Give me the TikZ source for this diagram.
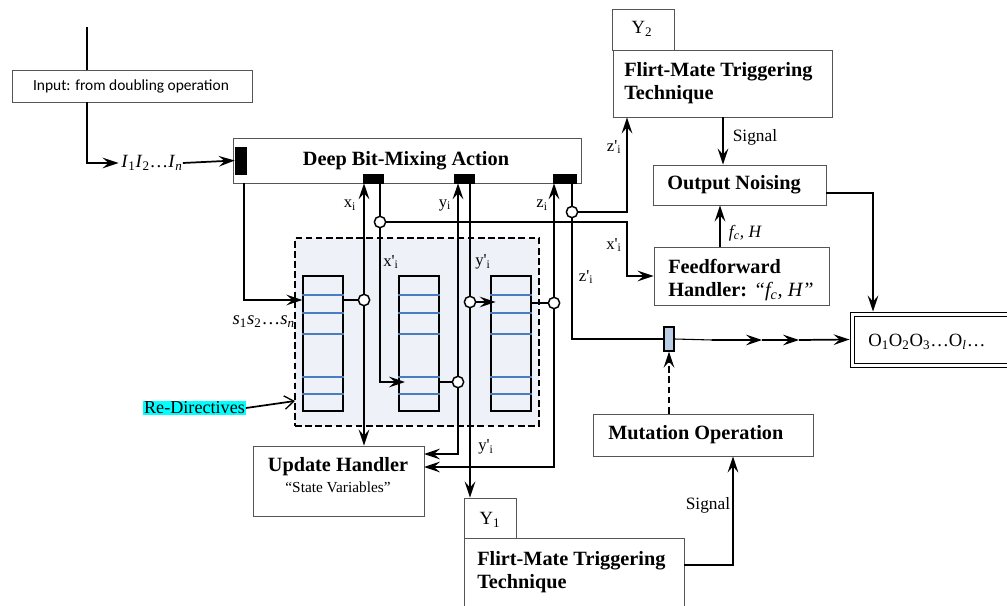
\documentclass[tikz,border=0pt]{standalone}
\usepackage{fontspec}
\setmainfont{Liberation Serif}
\newfontfamily\calibri{Carlito}
\usetikzlibrary{arrows.meta,fit,calc}

\definecolor{edge}{RGB}{85,85,85}
\definecolor{panel}{RGB}{238,242,248}
\definecolor{cellline}{RGB}{74,125,190}
\definecolor{gate}{RGB}{184,204,228}
\definecolor{mark}{RGB}{0,255,255}

\newcommand{\sub}[1]{\textsubscript{#1}}
\newcommand{\pr}{\textquotesingle}

\begin{document}
\begin{tikzpicture}[x=0.75pt,y=-0.75pt,
  box/.style={draw=edge, line width=0.7pt, inner sep=0pt, fill=white},
  wire/.style={line width=1.3pt},
  tip/.style={-{Stealth[length=12pt,width=8pt,inset=4.5pt]}},
  arr/.style={wire, tip},
  barb/.style={wire, -{Straight Barb[length=7pt,width=10pt,line width=1pt]}},
  blk/.style={fill=black, draw=black, inner sep=0pt},
  cell/.style={draw=black, line width=1pt, fill=panel, inner sep=0pt},
  tap/.style={circle, draw=black, line width=1.1pt, fill=white, inner sep=0pt, minimum size=8.5pt},
  bold/.style={font=\fontsize{15.2}{17.3}\selectfont\bfseries, inner sep=0pt},
  lbl/.style={font=\fontsize{12.5}{14}\selectfont, inner sep=0pt},
  sig/.style={font=\fontsize{13}{15}\selectfont, inner sep=0pt},
  big/.style={font=\fontsize{14}{16}\selectfont, inner sep=0pt},
]
\useasboundingbox (0,0) rectangle (1007,606);
\clip (0,0) rectangle (1007,606);

% helper columns and rows
\coordinate (inTop) at (87,27);
\coordinate (sx) at (244,0);
\coordinate (jx) at (627,0);
\coordinate (fcx) at (720,0);
\coordinate (sigx) at (723,0);
\coordinate (onx) at (873,193);
\coordinate (mutx) at (733,565);
\coordinate (h1) at (424,454);
\coordinate (h2) at (424,467);
\coordinate (rdin) at (295,401);
\coordinate (a0) at (712,340);
\coordinate (a1) at (762,340);
\coordinate (a2) at (799,340);

% ---------- input ----------
\node[box, fit={(12,70) (252,102)}] (inbox) {};
\node[font=\calibri\fontsize{11.6}{13}\selectfont, inner sep=0pt] at (131,86) {Input: from doubling operation};
\node[big] (inl) at (152,163) {\textit{I}\sub{1}\textit{I}\sub{2}…\textit{I}\sub{\textit{n}}};

% ---------- deep bit-mixing ----------
\node[box, fit={(233,138) (581,183)}] (dbm) {};
\node[bold] at (406,161) {Deep Bit-Mixing Action};
\node[blk, fit={(235,147) (246,174)}] (kin) {};
\node[blk, fit={(363,174) (383,183)}] (kx) {};
\node[blk, fit={(454,174) (474,183)}] (ky) {};
\node[blk, fit={(553,174) (576,183)}] (kz) {};

% ---------- register panel ----------
\node[draw=black, dashed, dash pattern=on 5pt off 2.6pt, line width=1.1pt, fill=panel, inner sep=0pt, fit={(295,238) (539,426)}] (pan) {};
\node[cell, fit={(303,276) (343,411)}] (r1) {};
\node[cell, fit={(399,276) (439,411)}] (r2) {};
\node[cell, fit={(491,276) (531,411)}] (r3) {};
\foreach \r in {r1,r2,r3}
  \foreach \yy in {295,313,334,377,394}
    \draw[cellline, line width=1pt] (\r.west |- 0,\yy) -- (\r.east |- 0,\yy);

% ---------- right-hand blocks ----------
\node[box, fit={(612,9) (674,50)}] (tab2) {};
\node[big] at (642,29) {Y\sub{2}};
\node[box, fit={(613,50) (832,117)}] (ft) {};
\node[bold, align=left, anchor=west] at (624,83) {Flirt-Mate Triggering\\Technique};

\node[box, fit={(653,165) (826,205)}] (on) {};
\node[bold, anchor=west] at (667,185) {Output Noising};

\node[box, fit={(654,247) (829,305)}] (ff) {};
\node[bold, align=left, anchor=west] at (668,280) {Feedforward\\Handler: {\mdseries\itshape “f\sub{c}, H”}};

\node[draw=black, line width=0.7pt, inner sep=0pt, fit={(850,312) (1015,367)}] (ob) {};
\draw[black, line width=0.7pt] (854,316) rectangle (1015,363);
\node[big, anchor=west] at (868,342) {O\sub{1}O\sub{2}O\sub{3}…O\sub{\textit{l}}…};

\node[draw=black, line width=1pt, fill=gate, inner sep=0pt, fit={(664,327) (674,351)}] (mr) {};

\node[box, fit={(593,414) (813,456)}] (mo) {};
\node[bold, anchor=west] at (608,435) {Mutation Operation};

% ---------- lower blocks ----------
\node[box, fit={(253,446) (424,516)}] (uh) {};
\node[bold] at (338,467) {Update Handler};
\node[font=\fontsize{11.5}{13}\selectfont, inner sep=0pt] at (338,487) {“State Variables”};

\node[box, fit={(464,498) (516,538)}] (tab1) {};
\node[big] at (490,520) {Y\sub{1}};
\node[box, fit={(464,538) (684,640)}] (fb) {};
\node[bold, align=left, anchor=west] at (477,572) {Flirt-Mate Triggering\\Technique};

\node[fill=mark, inner sep=0.6pt, font=\fontsize{13.6}{15}\selectfont] (rd) at (194.5,408) {Re-Directives};

% ---------- taps ----------
\node[tap] (cx1) at (364,300) {};
\node[tap] (cx2) at (380,222) {};
\node[tap] (cy1) at (458,382) {};
\node[tap] (cy2) at (470,302) {};
\node[tap] (cz1) at (554,303) {};
\node[tap] (cz2) at (572,212) {};

% ---------- connectors ----------
\draw[wire] (inTop) -- (inTop |- inbox.north);
\draw[arr] (inbox.south -| inTop) |- ([xshift=-2pt]inl.west);
\draw[arr] (inl.east) -- (kin.west);
\draw[arr] (kin.south -| sx) ++(0,9) |- (r1.west |- cx1);

\draw[wire] (r1.east |- cx1) -- (cx1);
\draw[arr] (cx1) -- (cx1 |- kx.south);
\draw[arr] (cx1) -- (cx1 |- uh.north);
\draw[wire] (kx.south -| cx2) -- (cx2);
\draw[arr] (cx2) |- ([xshift=5pt]r2.west |- cy1);
\draw[arr] (cx2) -- (cx2 -| jx) |- (ff.west);

\draw[wire] (r2.east |- cy1) -- (cy1);
\draw[arr] (cy1) -- (cy1 |- ky.south);
\draw[arr] (cy1) |- (h1);
\draw[wire] (ky.south -| cy2) -- (cy2);
\draw[arr] (cy2) -- ([xshift=4pt]r3.west |- cy2);
\draw[arr] (cy2) -- (cy2 |- tab1.north);

\draw[wire] (r3.east |- cz1) -- (cz1);
\draw[arr] (cz1) -- (cz1 |- kz.south);
\draw[arr] (cz1) |- (h2);
\draw[wire] (kz.south -| cz2) -- (cz2);
\draw[arr] (cz2) -- (cz2 -| jx) -- (jx |- ft.south);
\draw[wire] (cz2) |- (mr.west);
\draw[line width=0.8pt] (mr.east) -- (a0);
\draw[arr] (a0) -- (a1);
\draw[arr] (a1) -- (a2);
\draw[arr] (a2) -- (ob.west);

\draw[arr] (ft.south -| sigx) -- (on.north -| sigx);
\draw[arr] (ff.north -| fcx) -- (on.south -| fcx);
\draw[arr] (on.east |- onx) -| (ob.north -| onx);
\draw[wire, tip, dashed, dash pattern=on 5pt off 2.6pt] (mo.north -| mr) -- (mr.south);
\draw[arr] (fb.east |- mutx) -| (mo.south -| mutx);
\draw[barb] (rd.east) -- (rdin);

% ---------- labels ----------
\node[lbl] at (350,205) {x\sub{i}};
\node[lbl] at (445,205) {y\sub{i}};
\node[lbl] at (542,205) {z\sub{i}};
\node[lbl] at (391,262) {x\pr\sub{i}};
\node[lbl] at (483,262) {y\pr\sub{i}};
\node[lbl] at (614,245) {x\pr\sub{i}};
\node[lbl] at (614,147) {z\pr\sub{i}};
\node[lbl] at (586,277) {z\pr\sub{i}};
\node[lbl] at (486,447) {y\pr\sub{i}};
\node[sig] at (755,137) {Signal};
\node[sig] at (708,505) {Signal};
\node[font=\fontsize{13}{15}\selectfont\itshape, inner sep=0pt] at (745,233) {f\sub{c}, H};
\node[big, anchor=east] at (295,322) {\textit{s}\sub{1}\textit{s}\sub{2}…\textit{s}\sub{\textit{n}}};
\end{tikzpicture}
\end{document}
